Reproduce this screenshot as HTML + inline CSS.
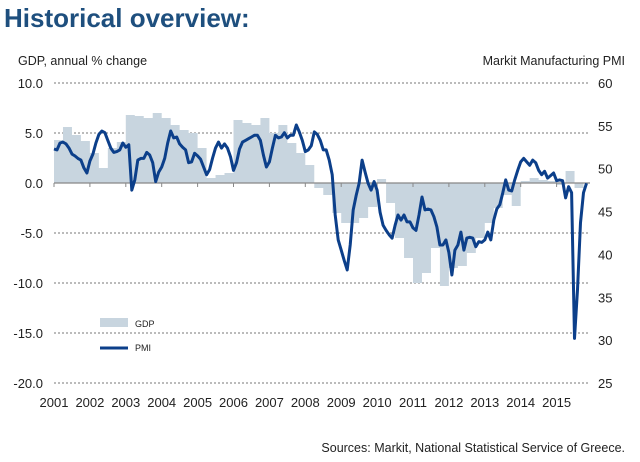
<!DOCTYPE html>
<html><head><meta charset="utf-8"><style>
body{margin:0;background:#fff;width:640px;height:462px;overflow:hidden;font-family:"Liberation Sans",sans-serif;}
svg{display:block}
</style></head><body>
<svg id="chart" width="640" height="462" font-family="Liberation Sans, sans-serif">
<text x="4" y="27" font-size="26" font-weight="bold" fill="#1e4f7e">Historical overview:</text>
<text x="18" y="65" font-size="12.5" fill="#222">GDP, annual % change</text>
<text x="625" y="65" font-size="12.5" fill="#222" text-anchor="end">Markit Manufacturing PMI</text>
<text x="625" y="452" font-size="12.5" fill="#222" text-anchor="end">Sources: Markit, National Statistical Service of Greece.</text>
<g id="grid"></g><g id="gdpg"></g><g id="zero"></g><g id="pmig"></g><g id="axes"></g>
<g>
<rect x="100" y="318" width="28" height="9" fill="#c8d5df"/>
<text x="135" y="327" font-size="9" fill="#222">GDP</text>
<line x1="100" y1="348" x2="128" y2="348" stroke="#0c3f8a" stroke-width="3"/>
<text x="135" y="351" font-size="9" fill="#222">PMI</text>
</g>
</svg>
<script>
const years=["2001","2002","2003","2004","2005","2006","2007","2008","2009","2010","2011","2012","2013","2014","2015"];
const gdpTicks=[10,5,0,-5,-10,-15,-20];
const pmiTicks=[60,55,50,45,40,35,30,25];
const gdpQuarterly=[4.3,5.6,4.8,4.2,3.0,1.5,3.5,4.1,6.8,6.7,6.5,7.0,6.5,5.8,5.3,5.0,3.5,0.5,0.8,1.0,6.3,6.0,5.8,6.5,5.0,5.8,4.0,3.0,1.8,-0.5,-1.2,-3.0,-4.0,-4.0,-3.5,-2.4,0.4,-2.0,-5.5,-7.5,-10.0,-9.0,-6.5,-10.3,-8.5,-8.3,-7.0,-5.5,-4.0,-2.5,-1.2,-2.3,0.2,0.5,0.3,0.2,-0.2,1.2,-0.5];
const pmiMonthly=[52.3,52.2,53.0,53.1,52.9,52.4,51.7,51.5,51.2,51.0,50.1,49.5,50.9,51.7,53.0,54.0,54.4,54.2,53.3,52.4,51.9,52.0,52.2,53.0,52.5,52.8,47.5,48.7,51.0,51.2,51.2,51.9,51.6,50.7,48.5,49.6,50.2,51.2,53.0,54.4,53.6,53.7,52.9,52.5,52.2,50.7,50.8,51.8,51.5,51.1,50.2,49.3,49.9,51.25,52.4,53.1,52.4,52.9,52.4,51.4,49.8,50.7,52.3,53.1,53.3,53.5,53.7,53.9,53.9,53.3,51.6,50.2,50.8,52.4,53.9,53.6,53.7,54.2,53.6,53.9,53.9,55.1,54.3,53.3,52.0,52.2,52.7,54.3,54.0,53.3,52.2,52.2,51.0,49.3,44.6,41.7,40.5,39.3,38.2,41.1,45.2,46.9,48.3,51.0,49.6,48.3,47.5,48.5,47.5,44.9,43.4,42.8,42.3,41.9,43.4,44.6,44.0,44.6,43.8,43.8,43.1,42.8,44.6,46.7,45.2,45.3,45.2,44.4,43.2,41.1,41.1,41.7,40.2,37.6,40.5,41.1,42.6,40.5,41.9,42.0,41.9,40.9,41.5,41.4,41.7,42.6,41.7,44.0,45.3,45.8,47.2,48.7,47.5,47.4,48.7,49.8,50.8,51.2,50.8,50.4,51.0,50.7,49.8,49.3,49.7,48.9,49.2,49.5,48.6,48.7,48.6,46.6,47.9,47.2,30.2,35.9,43.7,47.2,48.3];

const NS="http://www.w3.org/2000/svg";
const X0=54, YEARW=35.9;
const xMonth=i=>X0+i*YEARW/12;
const yG=v=>183-v*10;
const yP=v=>83+(60-v)*300/35;
function mk(tag,attrs,parent){const e=document.createElementNS(NS,tag);for(const k in attrs)e.setAttribute(k,attrs[k]);parent.appendChild(e);return e;}
const grid=document.getElementById('grid'),axes=document.getElementById('axes');
gdpTicks.forEach(v=>{
  if(v!==0){const l=mk('line',{x1:X0,x2:590,y1:yG(v),y2:yG(v),stroke:'#777','stroke-width':1,'stroke-dasharray':'2,2'},grid);
  
  }
  const t=mk('text',{x:43,y:yG(v)+5,'font-size':13,fill:'#222','text-anchor':'end'},axes);
  t.textContent=v.toFixed(1);
  
  
});
pmiTicks.forEach(v=>{
  const t=mk('text',{x:598,y:yP(v)+5,'font-size':13,fill:'#222'},axes);
  t.textContent=v;
  
  
});
let d=`M${X0},${yG(0)}`;
gdpQuarterly.forEach((v,k)=>{const xa=xMonth(k*3),xb=xMonth(k*3+3);d+=` L${xa},${yG(v)} L${xb},${yG(v)}`;});
d+=` L${xMonth(gdpQuarterly.length*3)},${yG(0)} Z`;
const area=mk('path',{d:d,fill:'#c8d5df'},document.getElementById('gdpg'));


const z=document.getElementById('zero');
const zl=mk('line',{x1:X0,x2:590,y1:183,y2:183,stroke:'#888','stroke-width':1.2},z);


years.forEach((y,i)=>{
  const x=X0+i*YEARW;
  const tk=mk('line',{x1:x,x2:x,y1:183,y2:187,stroke:'#888'},z);
  
  
  const t=mk('text',{x:x,y:407,'font-size':13,fill:'#222','text-anchor':'middle'},axes);
  t.textContent=y;
  
  
});
const pts=pmiMonthly.map((v,i)=>`${xMonth(i).toFixed(1)},${yP(v).toFixed(1)}`).join(' ');
const pl=mk('polyline',{points:pts,fill:'none',stroke:'#0c3f8a','stroke-width':3,'stroke-linejoin':'round'},document.getElementById('pmig'));


</script>
</body></html>
